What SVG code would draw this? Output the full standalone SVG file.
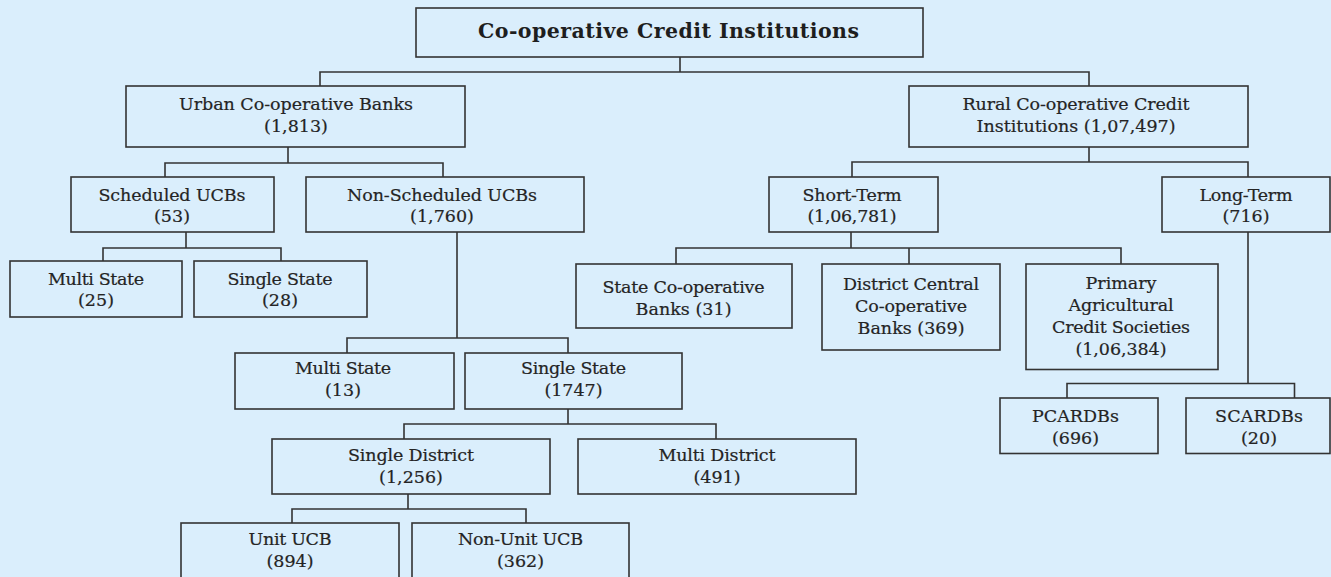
<svg xmlns="http://www.w3.org/2000/svg" width="1331" height="577" viewBox="0 0 1331 577">
<style>
.bg{fill:#daeefc}
.box{fill:#daeefc;stroke:#333;stroke-width:1.6}
.c{fill:none;stroke:#333;stroke-width:1.6}
text{font-family:"DejaVu Serif","Liberation Serif",serif;font-size:17.5px;fill:#242424;stroke:#242424;stroke-width:0.2;text-anchor:middle}
.t{font-weight:bold;font-size:20.5px;fill:#1e1e1e;stroke:none}
</style>
<rect class="bg" x="0" y="0" width="1331" height="577"/>
<g id="connectors">
<path class="c" d="M680 57V72M320 86V72H1089V86"/>
<path class="c" d="M288 147V163M165 177V163H443V177"/>
<path class="c" d="M1089 147V162M852 177V162H1248V177"/>
<path class="c" d="M186 232V248M103 261V248H281V261"/>
<path class="c" d="M457 232V338M347 353V338H568V353"/>
<path class="c" d="M851 232V248M676 264V248H1121V264M909 248V264"/>
<path class="c" d="M1248 232V383.5M1067 398V383.5H1294.5V398"/>
<path class="c" d="M568 409V424M404 439V424H716V439"/>
<path class="c" d="M408 494V509M292 523V509H526V523"/>
</g>
<g id="root"><rect class="box" x="416" y="8" width="507" height="49"/><text class="t" x="668.5" y="37.5" textLength="381" lengthAdjust="spacing">Co-operative Credit Institutions</text></g>
<g id="urban"><rect class="box" x="126" y="86" width="339" height="61"/><text x="296" y="110" textLength="234" lengthAdjust="spacing">Urban Co-operative Banks</text><text x="296" y="132">(1,813)</text></g>
<g id="rural"><rect class="box" x="909" y="86" width="339" height="61"/><text x="1076" y="110" textLength="227" lengthAdjust="spacing">Rural Co-operative Credit</text><text x="1076" y="132" textLength="199" lengthAdjust="spacing">Institutions (1,07,497)</text></g>
<g id="scheduled"><rect class="box" x="71" y="177" width="203" height="55"/><text x="172" y="200.5" textLength="147" lengthAdjust="spacing">Scheduled UCBs</text><text x="172" y="222">(53)</text></g>
<g id="nonscheduled"><rect class="box" x="306" y="177" width="278" height="55"/><text x="442" y="200.5" textLength="190" lengthAdjust="spacing">Non-Scheduled UCBs</text><text x="442" y="222">(1,760)</text></g>
<g id="shortterm"><rect class="box" x="769" y="177" width="169" height="55"/><text x="852" y="200.5" textLength="99" lengthAdjust="spacing">Short-Term</text><text x="852" y="222" textLength="89" lengthAdjust="spacing">(1,06,781)</text></g>
<g id="longterm"><rect class="box" x="1162" y="177" width="168" height="55"/><text x="1246" y="200.5" textLength="93" lengthAdjust="spacing">Long-Term</text><text x="1246" y="222">(716)</text></g>
<g id="sch-multistate"><rect class="box" x="10" y="261" width="172" height="56"/><text x="96" y="284.5" textLength="96" lengthAdjust="spacing">Multi State</text><text x="96" y="306">(25)</text></g>
<g id="sch-singlestate"><rect class="box" x="194" y="261" width="173" height="56"/><text x="280" y="284.5" textLength="105" lengthAdjust="spacing">Single State</text><text x="280" y="306">(28)</text></g>
<g id="stcb"><rect class="box" x="576" y="264" width="216" height="64"/><text x="683.5" y="292.5" textLength="162" lengthAdjust="spacing">State Co-operative</text><text x="683.5" y="314.5" textLength="96" lengthAdjust="spacing">Banks (31)</text></g>
<g id="dccb"><rect class="box" x="822" y="264" width="178" height="86"/><text x="911" y="289.5" textLength="136" lengthAdjust="spacing">District Central</text><text x="911" y="311.5" textLength="112" lengthAdjust="spacing">Co-operative</text><text x="911" y="333.5" textLength="107" lengthAdjust="spacing">Banks (369)</text></g>
<g id="pacs"><rect class="box" x="1026" y="264" width="192" height="105.5"/><text x="1121" y="288.5" textLength="71" lengthAdjust="spacing">Primary</text><text x="1121" y="311" textLength="105" lengthAdjust="spacing">Agricultural</text><text x="1121" y="333" textLength="138" lengthAdjust="spacing">Credit Societies</text><text x="1121" y="355" textLength="91" lengthAdjust="spacing">(1,06,384)</text></g>
<g id="ns-multistate"><rect class="box" x="235" y="353" width="219" height="56"/><text x="343" y="374" textLength="96" lengthAdjust="spacing">Multi State</text><text x="343" y="396">(13)</text></g>
<g id="ns-singlestate"><rect class="box" x="465" y="353" width="217" height="56"/><text x="573.5" y="374" textLength="105" lengthAdjust="spacing">Single State</text><text x="573.5" y="396">(1747)</text></g>
<g id="pcardbs"><rect class="box" x="1000" y="398" width="158" height="55.5"/><text x="1075.5" y="422" textLength="87" lengthAdjust="spacing">PCARDBs</text><text x="1075.5" y="444">(696)</text></g>
<g id="scardbs"><rect class="box" x="1186" y="398" width="144" height="55.5"/><text x="1259" y="422" textLength="88" lengthAdjust="spacing">SCARDBs</text><text x="1259" y="444">(20)</text></g>
<g id="singledistrict"><rect class="box" x="272" y="439" width="278" height="55"/><text x="411" y="460.5" textLength="126" lengthAdjust="spacing">Single District</text><text x="411" y="482.5">(1,256)</text></g>
<g id="multidistrict"><rect class="box" x="578" y="439" width="278" height="55"/><text x="717" y="460.5" textLength="117" lengthAdjust="spacing">Multi District</text><text x="717" y="482.5">(491)</text></g>
<g id="unitucb"><rect class="box" x="181" y="523" width="218" height="60"/><text x="290" y="545" textLength="83" lengthAdjust="spacing">Unit UCB</text><text x="290" y="567">(894)</text></g>
<g id="nonunitucb"><rect class="box" x="412" y="523" width="217" height="60"/><text x="520.5" y="545" textLength="125" lengthAdjust="spacing">Non-Unit UCB</text><text x="520.5" y="567">(362)</text></g>
</svg>
